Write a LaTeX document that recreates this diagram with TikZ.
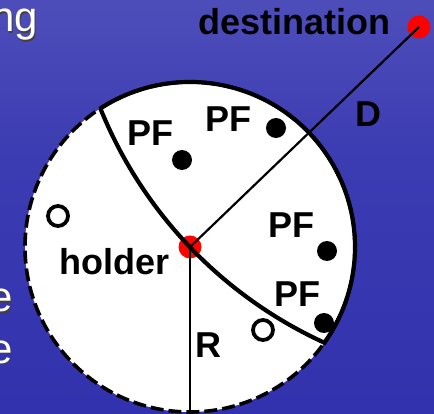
\documentclass[tikz,border=0pt]{standalone}
\usepackage{fontspec}
\setmainfont{Liberation Sans}
\definecolor{bgbot}{HTML}{2A2AAA}
\definecolor{bgmid}{HTML}{3B3BB2}
\definecolor{bgmid2}{HTML}{5252BC}
\definecolor{bgtop2}{HTML}{6E6EC8}
\definecolor{bgtop}{HTML}{A0A0DA}
\pgfdeclareverticalshading{sea}{100bp}{color(0bp)=(bgbot); color(55bp)=(bgmid); color(80bp)=(bgmid2); color(93bp)=(bgtop2); color(100bp)=(bgtop)}
\begin{document}
\begin{tikzpicture}[x=1pt,y=1pt,
  lbl/.style={font=\fontsize{36}{42}\selectfont\bfseries, text=black, inner sep=0pt, anchor=base},
  bgtxt/.style={font=\fontsize{42}{50}\selectfont, text=white, inner sep=0pt, anchor=base east},
  shd/.style={font=\fontsize{42}{50}\selectfont, text=black!75, inner sep=0pt, anchor=base east},
  pfdot/.style={circle, fill=black, minimum size=20pt, inner sep=0pt},
  opendot/.style={circle, draw=black, line width=3.8pt, fill=white, minimum size=20pt, inner sep=0pt},
  reddot/.style={circle, fill=red, minimum size=23pt, inner sep=0pt},
  thinline/.style={line width=2.2pt, draw=black},
  thickline/.style={line width=4.2pt, draw=black},
  dashline/.style={line width=3.6pt, draw=black, dash pattern=on 13pt off 5pt}]
\useasboundingbox (0,0) rectangle (434,-414);
\shade[shading=sea] (0,0) rectangle (434,-414);
% cut-off slide text
\node[shd] at (39.5,-33.5) {ng};
\node[bgtxt] (ng) at (38,-32) {ng};
\node[shd] at (14.5,-313.5) {e};
\node[bgtxt] (e1) at (13,-312) {e};
\node[shd] at (14.5,-364.5) {e};
\node[bgtxt] (e2) at (13,-363) {e};
% main circle
\coordinate (O) at (190,-247);
\coordinate (bot) at (190,-412);
\fill[white] (O) circle[radius=165pt];
\draw[dashline] (O) circle[radius=165pt];
\draw[thickline] ([shift={(122.9:165pt)}]O) arc[start angle=122.9, end angle=-35.2, radius=165pt];
% red dots
\node[reddot] (hold) at (O) {};
\node[reddot] (dest) at (419,-27) {};
% boundary curve
\draw[thickline] ([shift={(122.9:165pt)}]O) arc[start angle=202, end angle=245.7, radius=438pt];
% lines
\draw[thinline] (hold.center) -- (dest.center);
\draw[thinline] (hold.center) -- (bot);
% dots
\node[pfdot] (p1) at (182,-160) {};
\node[pfdot] (p2) at (276,-128) {};
\node[pfdot] (p3) at (327,-251) {};
\node[pfdot] (p4) at (324,-323) {};
\node[opendot] (o1) at (58,-216) {};
\node[opendot] (o2) at (263,-330) {};
% labels
\node[lbl] (ldest) at (294.5,-35) {destination};
\node[lbl] (lpf1) at (150,-146) {PF};
\node[lbl] (lpf2) at (228.5,-132) {PF};
\node[lbl] (lD) at (368.5,-127) {D};
\node[lbl] (lpf3) at (291.5,-238) {PF};
\node[lbl] (lpf4) at (297.5,-306) {PF};
\node[lbl] (lhold) at (114.5,-275) {holder};
\node[lbl] (lR) at (208,-357) {R};
\end{tikzpicture}
\end{document}
